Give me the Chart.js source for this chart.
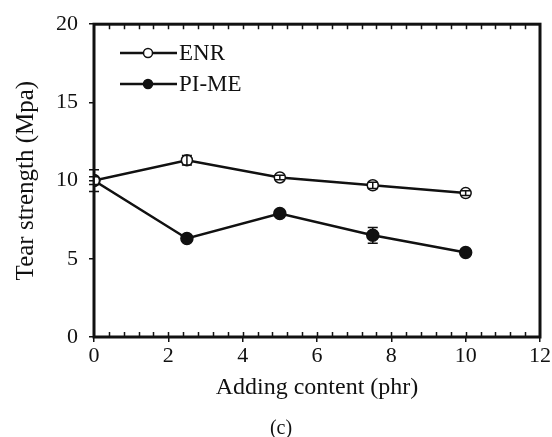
<!DOCTYPE html>
<html>
<head>
<meta charset="utf-8">
<script src="https://cdn.jsdelivr.net/npm/chart.js@4.4.1/dist/chart.umd.min.js"></script>
<style>
  body { margin: 0; background: #fff; }
  #caja { width: 552px; height: 437px; position: relative; }
</style>
</head>
<body>
<div id="caja"><canvas id="grafica"></canvas></div>
<script>
// --- DATOS ---
const contenido = [0, 2.5, 5, 7.5, 10];
const enr = [10.0, 11.3, 10.2, 9.7, 9.2];
const enrErr = [0.25, 0.3, 0.15, 0.2, 0.15];
const pime = [10.0, 6.3, 7.9, 6.5, 5.4];
const pimeErr = [0.7, 0.15, 0.2, 0.5, 0.15];
const xTicks = [0, 2, 4, 6, 8, 10, 12];
const yTicks = [0, 5, 10, 15, 20];
const pasoMenor = 0.4;

const FUENTE = "'Liberation Serif', 'Times New Roman', serif";

// marco, ticks menores, barras de error, leyenda y "(c)"
const extras = {
  id: 'extras',
  beforeDatasetsDraw(chart) {
    const { ctx, chartArea: a, scales: { x } } = chart;
    ctx.save();
    ctx.strokeStyle = '#111';
    ctx.lineWidth = 3;
    ctx.strokeRect(a.left, a.top, a.right - a.left, a.bottom - a.top);
    ctx.lineWidth = 1.5;
    for (let i = 1; x.min + i * pasoMenor < x.max - 0.01; i++) {
      const px = Math.round(x.getPixelForValue(x.min + i * pasoMenor)) + 0.5;
      ctx.beginPath();
      ctx.moveTo(px, a.bottom); ctx.lineTo(px, a.bottom - 5);
      ctx.moveTo(px, a.top); ctx.lineTo(px, a.top + 5);
      ctx.stroke();
    }
    ctx.restore();
  },
  afterDatasetsDraw(chart) {
    const { ctx, scales: { x, y } } = chart;
    const errores = [enrErr, pimeErr];
    ctx.save();
    ctx.strokeStyle = '#111';
    ctx.lineWidth = 1.5;
    chart.data.datasets.forEach((ds, k) => {
      ds.data.forEach((p, i) => {
        const e = errores[k][i];
        const px = x.getPixelForValue(p.x);
        const y1 = y.getPixelForValue(p.y + e);
        const y2 = y.getPixelForValue(p.y - e);
        ctx.beginPath();
        ctx.moveTo(px, y1); ctx.lineTo(px, y2);
        ctx.moveTo(px - 5, y1); ctx.lineTo(px + 5, y1);
        ctx.moveTo(px - 5, y2); ctx.lineTo(px + 5, y2);
        ctx.stroke();
      });
    });
    // leyenda
    const filas = [53, 84];
    chart.data.datasets.forEach((ds, k) => {
      const yy = filas[k];
      ctx.lineWidth = 2.5;
      ctx.beginPath();
      ctx.moveTo(120, yy); ctx.lineTo(177, yy);
      ctx.stroke();
      ctx.beginPath();
      ctx.arc(148, yy, 4.5, 0, Math.PI * 2);
      ctx.fillStyle = ds.pointBackgroundColor;
      ctx.fill();
      ctx.lineWidth = 1.5;
      ctx.stroke();
      ctx.fillStyle = '#111';
      ctx.font = '23px ' + FUENTE;
      ctx.textBaseline = 'middle';
      ctx.textAlign = 'left';
      ctx.fillText(ds.label, 179, yy + 1);
    });
    ctx.font = '20px ' + FUENTE;
    ctx.textAlign = 'center';
    ctx.fillText('(c)', 281, 429);
    ctx.restore();
  }
};

new Chart(document.getElementById('grafica'), {
  type: 'line',
  data: {
    datasets: [
      {
        label: 'ENR',
        data: contenido.map((c, i) => ({ x: c, y: enr[i] })),
        borderColor: '#111',
        borderWidth: 2.5,
        pointRadius: 5.5,
        pointBackgroundColor: '#fff',
        pointBorderColor: '#111',
        pointBorderWidth: 1.5
      },
      {
        label: 'PI-ME',
        data: contenido.map((c, i) => ({ x: c, y: pime[i] })),
        borderColor: '#111',
        borderWidth: 2.5,
        pointRadius: 6,
        pointBackgroundColor: '#111',
        pointBorderColor: '#111',
        pointBorderWidth: 1.5
      }
    ]
  },
  options: {
    responsive: true,
    maintainAspectRatio: false,
    animation: false,
    layout: { padding: { left: 0, right: 12, top: 22, bottom: 35 } },
    plugins: { legend: { display: false }, tooltip: { enabled: false } },
    scales: {
      x: {
        type: 'linear',
        min: 0, max: 12,
        afterBuildTicks: s => { s.ticks = xTicks.map(v => ({ value: v })); },
        afterFit: s => { s.height = 65; },
        grid: { drawOnChartArea: false, tickLength: 5, color: '#111', lineWidth: 1.5 },
        border: { display: false },
        ticks: { color: '#111', font: { family: FUENTE, size: 22 }, padding: 1, maxRotation: 0 },
        title: { display: true, text: 'Adding content (phr)', color: '#111', font: { family: FUENTE, size: 24 }, padding: 0 }
      },
      y: {
        min: 0, max: 20,
        afterBuildTicks: s => { s.ticks = yTicks.map(v => ({ value: v })); },
        afterFit: s => { s.width = 94; },
        grid: { drawOnChartArea: false, tickLength: 5, color: '#111', lineWidth: 1.5 },
        border: { display: false },
        ticks: { color: '#111', font: { family: FUENTE, size: 22 }, padding: 11 },
        title: { display: true, text: 'Tear strength (Mpa)', color: '#111', font: { family: FUENTE, size: 25 }, padding: { top: 11 } }
      }
    }
  },
  plugins: [extras]
});
</script>
</body>
</html>
